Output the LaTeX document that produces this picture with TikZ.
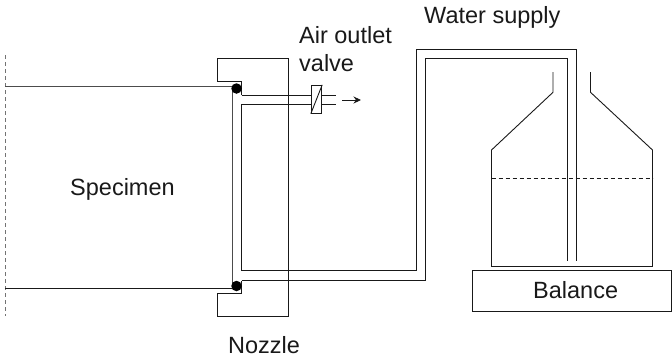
\documentclass[tikz,border=0pt]{standalone}
\usepackage{fontspec}
\setmainfont{Liberation Sans}
\usetikzlibrary{arrows.meta}
\tikzset{
  px/.style={x=1pt,y=-1pt},
  ln/.style={draw=black!90,line width=0.9pt,line join=miter},
  lbl/.style={inner sep=0pt,anchor=base west,font=\fontsize{23.5}{28}\selectfont,text=black!90},
  ball/.style={circle,fill=black,inner sep=0pt,minimum size=10.5pt}
}
\begin{document}
\begin{tikzpicture}[px]
\useasboundingbox (0,0) rectangle (672,360);
% specimen axis
\coordinate (axA) at (5,55);
\coordinate (axB) at (5,316);
\draw[ln,draw=black!55,dash pattern=on 4pt off 3pt] (axA) -- (axB);
% corners of the specimen
\coordinate (specTL) at (5,86);
\coordinate (specTR) at (232,86);
\coordinate (specBL) at (5,288.6);
\coordinate (specBR) at (232,288.6);
\draw[ln,draw=black!70] (specTL) -- (specTR);
\draw[ln] (specBL) -- (specBR);
% nozzle body
\draw[ln] (241.5,95) -- (241.5,81.5) -- (217.5,81.5) -- (217.5,58.5) -- (288.7,58.5) -- (288.7,316.5) -- (217.5,316.5) -- (217.5,293.5) -- (241.5,293.5) -- (241.5,280.5);
% valve
\node[draw=black!90,line width=0.9pt,minimum width=10.5pt,minimum height=28pt,inner sep=0pt] (valve) at (316.5,99.3) {};
\draw[ln] (valve.south west) -- (valve.north east);
% air passage and water tube
\draw[ln,draw=black!70] (specTR) -- (specBR);
\draw[ln] (241.5,95) -- (valve.west |- 0,95);
\draw[ln] (valve.west |- 0,104.5) -- (241.5,104.5) -- (241.5,270.5) -- (416,270.5) -- (416,49) -- (576.7,49) -- (576.7,261);
\draw[ln] (241.5,280.5) -- (425.5,280.5) -- (425.5,58.5) -- (567,58.5) -- (567,261);
\draw[ln] (valve.east |- 0,95) -- (336,95);
\draw[ln] (valve.east |- 0,104.5) -- (336,104.5);
\coordinate (arrA) at (342,100);
\coordinate (arrB) at (361,100);
\draw[ln,-{Stealth[length=7.5pt,width=7pt]}] (arrA) -- (arrB);
% seals
\node[ball] (ballT) at (236.5,88.5) {};
\node[ball] (ballB) at (236.5,286) {};
% bottle
\draw[ln] (553,72) -- (553,92.3) -- (491.5,150) -- (491.5,266.5) -- (652.5,266.5) -- (652.5,150) -- (590.5,92.3) -- (590.5,72);
\draw[ln,dash pattern=on 4pt off 3pt,line width=0.8pt] (491.5,178.5) -- (652.5,178.5);
% balance
\node[draw=black!90,line width=0.9pt,minimum width=198.3pt,minimum height=41pt,inner sep=0pt] (balance) at (571.85,290.9) {};
% labels
\node[lbl] (tSpec) at (70,195) {Specimen};
\node[lbl] (tBal) at (533,298.7) {Balance};
\node[lbl] (tAir) at (299,43.3) {Air outlet};
\node[lbl] (tValve) at (299,71) {valve};
\node[lbl] (tWater) at (424,23) {Water supply};
\node[lbl] (tNoz) at (228,353.5) {Nozzle};
\end{tikzpicture}
\end{document}
